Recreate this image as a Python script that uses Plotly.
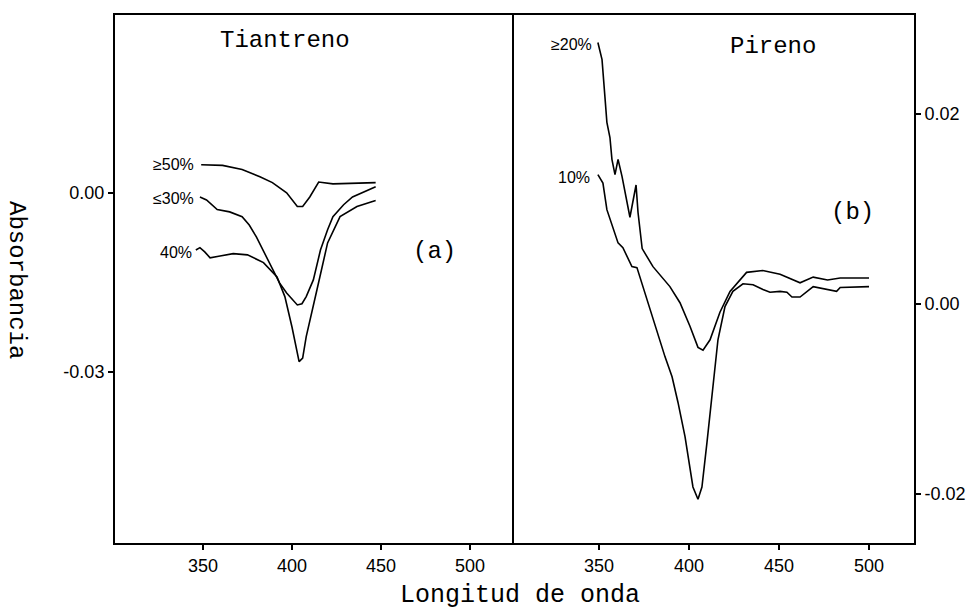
import plotly.graph_objects as go

# ---- Panel (a) Tiantreno ----
t50_x = [349, 356, 361, 372, 382, 389, 397, 403, 406, 410, 415, 423, 435, 447]
t50_y = [0.0047, 0.0047, 0.0046, 0.0039, 0.0027, 0.0017, 0.0000, -0.0023, -0.0023, -0.0007, 0.0018, 0.0015, 0.0016, 0.0017]

t30_x = [348.3, 352, 358, 365, 372, 376, 380, 385, 389, 393, 397, 403, 405.6, 408, 412, 416, 420, 423, 429, 434, 447]
t30_y = [-0.0007, -0.0012, -0.0028, -0.0032, -0.0040, -0.0054, -0.0074, -0.0104, -0.0129, -0.0151, -0.0168, -0.0188,
         -0.0186, -0.0174, -0.0146, -0.0096, -0.0062, -0.0040, -0.0020, -0.0007, 0.0010]

t40_x = [346, 348.3, 351, 354, 359.6, 367, 375, 384, 391.6, 396, 400, 404, 406, 408, 414, 420, 427, 436.5, 447]
t40_y = [-0.0096, -0.0092, -0.0099, -0.0109, -0.0106, -0.0102, -0.0104, -0.0117, -0.0141, -0.0174, -0.0225, -0.0283,
         -0.0277, -0.0241, -0.0163, -0.0084, -0.0040, -0.0023, -0.0013]

# ---- Panel (b) Pireno ----
p20_x = [349.4, 351.7, 353.3, 354.4, 356.1, 357.2, 358.9, 360.6, 362.8, 367.2, 370.6, 371.7, 374.0, 380, 389.4, 395,
         400.6, 405, 407.8, 411.7, 417.2, 422.8, 432, 441, 450.6, 461.7, 469, 477, 484, 500]
p20_y = [0.0275, 0.0257, 0.0218, 0.0191, 0.0175, 0.0152, 0.0136, 0.0152, 0.0134, 0.0091, 0.0125, 0.0096, 0.0058, 0.0039,
         0.0018, 0.0001, -0.0024, -0.0046, -0.0049, -0.0038, -0.0009, 0.0013, 0.0033, 0.0035, 0.0031, 0.0022, 0.0028,
         0.0025, 0.0027, 0.0027]

p10_x = [349.4, 352.2, 354.4, 357.8, 360.6, 363.3, 368.3, 371.1, 374.4, 380, 386.7, 390.6, 393.9, 397.8, 402.2, 405,
         407.2, 410, 413.3, 416.1, 420, 424.4, 430, 435.6, 441.1, 445, 450.6, 454.4, 457.2, 461.7, 469, 477, 482, 484, 500]
p10_y = [0.0136, 0.0127, 0.0099, 0.0081, 0.0064, 0.0059, 0.0039, 0.0038, 0.0018, -0.0017, -0.0056, -0.0077, -0.0104,
         -0.0140, -0.0193, -0.0206, -0.0193, -0.0146, -0.0087, -0.0038, -0.0003, 0.0013, 0.0021, 0.0020, 0.0015, 0.0012,
         0.0013, 0.0012, 0.0007, 0.0007, 0.0018, 0.0015, 0.0013, 0.0017, 0.0018]

x_ticks = [350, 400, 450, 500]
ya_ticks = [0.0, -0.03]
ya_text = ["0.00", "-0.03"]
yb_ticks = [0.02, 0.0, -0.02]
yb_text = ["0.02", "0.00", "-0.02"]

line = dict(color="black", width=1.6)
fig = go.Figure()
for xs, ys in [(t50_x, t50_y), (t30_x, t30_y), (t40_x, t40_y)]:
    fig.add_trace(go.Scatter(x=xs, y=ys, mode="lines", line=line, xaxis="x", yaxis="y",
                             showlegend=False, hoverinfo="skip"))
for xs, ys in [(p20_x, p20_y), (p10_x, p10_y)]:
    fig.add_trace(go.Scatter(x=xs, y=ys, mode="lines", line=line, xaxis="x2", yaxis="y2",
                             showlegend=False, hoverinfo="skip"))

tickfont = dict(family="Liberation Sans, Arial, sans-serif", size=18, color="black")
mono = "Liberation Mono, Courier New, monospace"
axcommon = dict(showline=True, linecolor="black", linewidth=2, showgrid=False, automargin=False,
                zeroline=False, ticks="outside", ticklen=5, tickcolor="black", tickwidth=1.5,
                tickfont=tickfont)

split = (514 - 115) / 799
fig.update_layout(
    width=978, height=610,
    margin=dict(l=115, r=64, t=15, b=67),
    paper_bgcolor="white", plot_bgcolor="white",
    xaxis=dict(domain=[0, split], range=[300.6, 524.7], tickvals=x_ticks, anchor="y", mirror=True, **axcommon),
    yaxis=dict(domain=[0, 1], range=[-0.0587, 0.0298], tickvals=ya_ticks, ticktext=ya_text,
               anchor="x", mirror=False, **axcommon),
    xaxis2=dict(domain=[split, 1], range=[302.8, 525], tickvals=x_ticks, anchor="y2", mirror=True, **axcommon),
    yaxis2=dict(domain=[0, 1], range=[-0.0252, 0.0304], tickvals=yb_ticks, ticktext=yb_text,
                anchor="x2", side="right", mirror=True, **axcommon),
)

lab = dict(family="Liberation Sans, Arial, sans-serif", size=16, color="black")
big = dict(family=mono, size=24, color="black")
ann = [
    dict(x=346, y=0.0047, xref="x", yref="y", text="≥50%", xanchor="right", font=lab),
    dict(x=346, y=-0.0010, xref="x", yref="y", text="≤30%", xanchor="right", font=lab),
    dict(x=345, y=-0.0100, xref="x", yref="y", text="40%", xanchor="right", font=lab),
    dict(x=395.8, y=0.0255, xref="x", yref="y", text="Tiantreno", font=big),
    dict(x=480, y=-0.0099, xref="x", yref="y", text="(a)", font=big),
    dict(x=347, y=0.0273, xref="x2", yref="y2", text="≥20%", xanchor="right", font=lab),
    dict(x=346, y=0.0133, xref="x2", yref="y2", text="10%", xanchor="right", font=lab),
    dict(x=446.4, y=0.0271, xref="x2", yref="y2", text="Pireno", font=big),
    dict(x=491, y=0.0096, xref="x2", yref="y2", text="(b)", font=big),
    dict(x=(17 - 115) / 799, y=(543 - 280) / 528, xref="paper", yref="paper", text="Absorbancia",
         textangle=90, xanchor="center", yanchor="middle", font=dict(family=mono, size=24, color="black")),
    dict(x=(520 - 115) / 799, y=(543 - 595) / 528, xref="paper", yref="paper", text="Longitud de onda",
         xanchor="center", yanchor="middle", font=dict(family=mono, size=25, color="black")),
]
for a in ann:
    a["showarrow"] = False
fig.update_layout(annotations=ann)

fig.write_html("out.html", config={"displayModeBar": False},
               post_script="document.body.style.margin='0px';")
